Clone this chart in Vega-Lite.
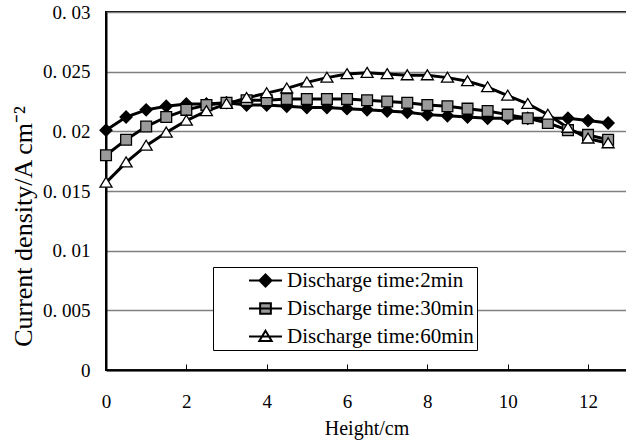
{
  "$schema": "https://vega.github.io/schema/vega-lite/v6.json",
  "width": 521,
  "height": 358,
  "autosize": {"type": "none"},
  "padding": {"left": 106, "top": 12, "right": 0, "bottom": 71},
  "background": "white",
  "config": {
    "view": {"stroke": "black", "strokeWidth": 2},
    "font": "Liberation Serif",
    "axis": {"labelFont": "Liberation Serif", "titleFont": "Liberation Serif", "labelColor": "black", "titleColor": "black", "titleFontWeight": "normal"}
  },
  "datasets": {
    "pts": [
      {"x": 0, "s": "Discharge time:2min", "y": 0.0201}, {"x": 0.5, "s": "Discharge time:2min", "y": 0.0212}, {"x": 1, "s": "Discharge time:2min", "y": 0.0218}, {"x": 1.5, "s": "Discharge time:2min", "y": 0.0221}, {"x": 2, "s": "Discharge time:2min", "y": 0.0223}, {"x": 2.5, "s": "Discharge time:2min", "y": 0.0223}, {"x": 3, "s": "Discharge time:2min", "y": 0.0224}, {"x": 3.5, "s": "Discharge time:2min", "y": 0.0222}, {"x": 4, "s": "Discharge time:2min", "y": 0.0222}, {"x": 4.5, "s": "Discharge time:2min", "y": 0.0221}, {"x": 5, "s": "Discharge time:2min", "y": 0.0220}, {"x": 5.5, "s": "Discharge time:2min", "y": 0.0220}, {"x": 6, "s": "Discharge time:2min", "y": 0.0219}, {"x": 6.5, "s": "Discharge time:2min", "y": 0.0218}, {"x": 7, "s": "Discharge time:2min", "y": 0.0217}, {"x": 7.5, "s": "Discharge time:2min", "y": 0.0216}, {"x": 8, "s": "Discharge time:2min", "y": 0.0214}, {"x": 8.5, "s": "Discharge time:2min", "y": 0.0213}, {"x": 9, "s": "Discharge time:2min", "y": 0.0212}, {"x": 9.5, "s": "Discharge time:2min", "y": 0.0211}, {"x": 10, "s": "Discharge time:2min", "y": 0.0211}, {"x": 10.5, "s": "Discharge time:2min", "y": 0.0211}, {"x": 11, "s": "Discharge time:2min", "y": 0.0211}, {"x": 11.5, "s": "Discharge time:2min", "y": 0.0211}, {"x": 12, "s": "Discharge time:2min", "y": 0.0209}, {"x": 12.5, "s": "Discharge time:2min", "y": 0.0207},
      {"x": 0, "s": "Discharge time:30min", "y": 0.0180}, {"x": 0.5, "s": "Discharge time:30min", "y": 0.0193}, {"x": 1, "s": "Discharge time:30min", "y": 0.0204}, {"x": 1.5, "s": "Discharge time:30min", "y": 0.0212}, {"x": 2, "s": "Discharge time:30min", "y": 0.0218}, {"x": 2.5, "s": "Discharge time:30min", "y": 0.0222}, {"x": 3, "s": "Discharge time:30min", "y": 0.0224}, {"x": 3.5, "s": "Discharge time:30min", "y": 0.0226}, {"x": 4, "s": "Discharge time:30min", "y": 0.0226}, {"x": 4.5, "s": "Discharge time:30min", "y": 0.0227}, {"x": 5, "s": "Discharge time:30min", "y": 0.0227}, {"x": 5.5, "s": "Discharge time:30min", "y": 0.0227}, {"x": 6, "s": "Discharge time:30min", "y": 0.0227}, {"x": 6.5, "s": "Discharge time:30min", "y": 0.0226}, {"x": 7, "s": "Discharge time:30min", "y": 0.0225}, {"x": 7.5, "s": "Discharge time:30min", "y": 0.0224}, {"x": 8, "s": "Discharge time:30min", "y": 0.0222}, {"x": 8.5, "s": "Discharge time:30min", "y": 0.0221}, {"x": 9, "s": "Discharge time:30min", "y": 0.0219}, {"x": 9.5, "s": "Discharge time:30min", "y": 0.0217}, {"x": 10, "s": "Discharge time:30min", "y": 0.0214}, {"x": 10.5, "s": "Discharge time:30min", "y": 0.0211}, {"x": 11, "s": "Discharge time:30min", "y": 0.0207}, {"x": 11.5, "s": "Discharge time:30min", "y": 0.0201}, {"x": 12, "s": "Discharge time:30min", "y": 0.0197}, {"x": 12.5, "s": "Discharge time:30min", "y": 0.0193},
      {"x": 0, "s": "Discharge time:60min", "y": 0.0157}, {"x": 0.5, "s": "Discharge time:60min", "y": 0.0174}, {"x": 1, "s": "Discharge time:60min", "y": 0.0188}, {"x": 1.5, "s": "Discharge time:60min", "y": 0.0199}, {"x": 2, "s": "Discharge time:60min", "y": 0.0209}, {"x": 2.5, "s": "Discharge time:60min", "y": 0.0217}, {"x": 3, "s": "Discharge time:60min", "y": 0.0223}, {"x": 3.5, "s": "Discharge time:60min", "y": 0.0228}, {"x": 4, "s": "Discharge time:60min", "y": 0.0232}, {"x": 4.5, "s": "Discharge time:60min", "y": 0.0236}, {"x": 5, "s": "Discharge time:60min", "y": 0.0241}, {"x": 5.5, "s": "Discharge time:60min", "y": 0.0245}, {"x": 6, "s": "Discharge time:60min", "y": 0.0248}, {"x": 6.5, "s": "Discharge time:60min", "y": 0.0249}, {"x": 7, "s": "Discharge time:60min", "y": 0.0248}, {"x": 7.5, "s": "Discharge time:60min", "y": 0.0247}, {"x": 8, "s": "Discharge time:60min", "y": 0.0247}, {"x": 8.5, "s": "Discharge time:60min", "y": 0.0245}, {"x": 9, "s": "Discharge time:60min", "y": 0.0242}, {"x": 9.5, "s": "Discharge time:60min", "y": 0.0237}, {"x": 10, "s": "Discharge time:60min", "y": 0.0230}, {"x": 10.5, "s": "Discharge time:60min", "y": 0.0223}, {"x": 11, "s": "Discharge time:60min", "y": 0.0214}, {"x": 11.5, "s": "Discharge time:60min", "y": 0.0203}, {"x": 12, "s": "Discharge time:60min", "y": 0.0194}, {"x": 12.5, "s": "Discharge time:60min", "y": 0.0190}
    ]
  },
  "data": {"name": "pts"},
  "layer": [
    {
      "mark": {"type": "line", "color": "black", "strokeWidth": 3},
      "encoding": {
        "x": {"field": "x", "type": "quantitative", "scale": {"domain": [0, 12.97], "nice": false, "zero": false},
          "axis": {"title": "Height/cm", "values": [0, 2, 4, 6, 8, 10, 12], "grid": false, "domain": true, "domainColor": "black", "domainWidth": 2, "tickColor": "black", "tickSize": -6, "labelFontSize": 19, "labelPadding": 28, "titleFontSize": 20, "titlePadding": 7, "labelFlush": false}},
        "y": {"field": "y", "type": "quantitative", "scale": {"domain": [0, 0.03], "nice": false},
          "axis": {"title": "Current density/A cm⁻²", "values": [0, 0.005, 0.01, 0.015, 0.02, 0.025, 0.03], "labelExpr": "replace(format(datum.value, '~g'), '.', '. ')", "grid": true, "gridColor": "#808080", "gridWidth": 1.5, "domain": true, "domainColor": "black", "domainWidth": 2, "ticks": false, "labelFontSize": 19, "labelPadding": 16, "titleFontSize": 26, "titleX": -83, "titleY": 214, "titleAngle": 270, "titleAlign": "center", "titleBaseline": "middle", "labelFlush": false}},
        "detail": {"field": "s"}
      }
    },
    {
      "mark": {"type": "point", "filled": true, "stroke": "black", "strokeWidth": 1.3, "size": 144, "opacity": 1},
      "encoding": {
        "x": {"field": "x", "type": "quantitative"},
        "y": {"field": "y", "type": "quantitative"},
        "shape": {"field": "s", "type": "nominal", "legend": null,
          "scale": {"domain": ["Discharge time:2min", "Discharge time:30min", "Discharge time:60min"], "range": ["M0,-1L1,0L0,1L-1,0Z", "M-0.9,-0.9L0.9,-0.9L0.9,0.9L-0.9,0.9Z", "M0,-0.9L1,0.75L-1,0.75Z"]}},
        "fill": {"field": "s", "type": "nominal", "legend": null,
          "scale": {"domain": ["Discharge time:2min", "Discharge time:30min", "Discharge time:60min"], "range": ["#000000", "#9a9a9a", "#ffffff"]}}
      }
    },
    {
      "mark": {"type": "point", "filled": true, "strokeWidth": 2, "size": 272, "opacity": 0},
      "encoding": {
        "x": {"field": "x", "type": "quantitative"},
        "y": {"field": "y", "type": "quantitative"},
        "shape": {"field": "s", "type": "nominal",
          "scale": {"domain": ["Discharge time:2min", "Discharge time:30min", "Discharge time:60min"], "range": ["M-2,0L2,0M0,-0.73L0.73,0L0,0.73L-0.73,0Z", "M-2,0L2,0M-0.65,-0.65L0.65,-0.65L0.65,0.65L-0.65,0.65Z", "M-2,0L2,0M0,-0.7L0.75,0.55L-0.75,0.55Z"]},
          "legend": {"title": null, "orient": "none", "legendX": 107, "legendY": 255, "strokeColor": "black", "fillColor": "white", "padding": 3, "symbolOffset": 39, "symbolSize": 272, "labelFont": "Liberation Serif", "labelFontSize": 21, "labelColor": "black", "labelOffset": 11, "rowPadding": 6, "symbolStrokeWidth": 2, "symbolOpacity": 1, "labelLimit": 400}},
        "fill": {"field": "s", "type": "nominal",
          "scale": {"domain": ["Discharge time:2min", "Discharge time:30min", "Discharge time:60min"], "range": ["#000000", "#9a9a9a", "#ffffff"]}},
        "stroke": {"field": "s", "type": "nominal",
          "scale": {"domain": ["Discharge time:2min", "Discharge time:30min", "Discharge time:60min"], "range": ["#000000", "#000000", "#000000"]}}
      }
    }
  ],
  "resolve": {"scale": {"shape": "independent", "fill": "independent", "stroke": "independent"}}
}
